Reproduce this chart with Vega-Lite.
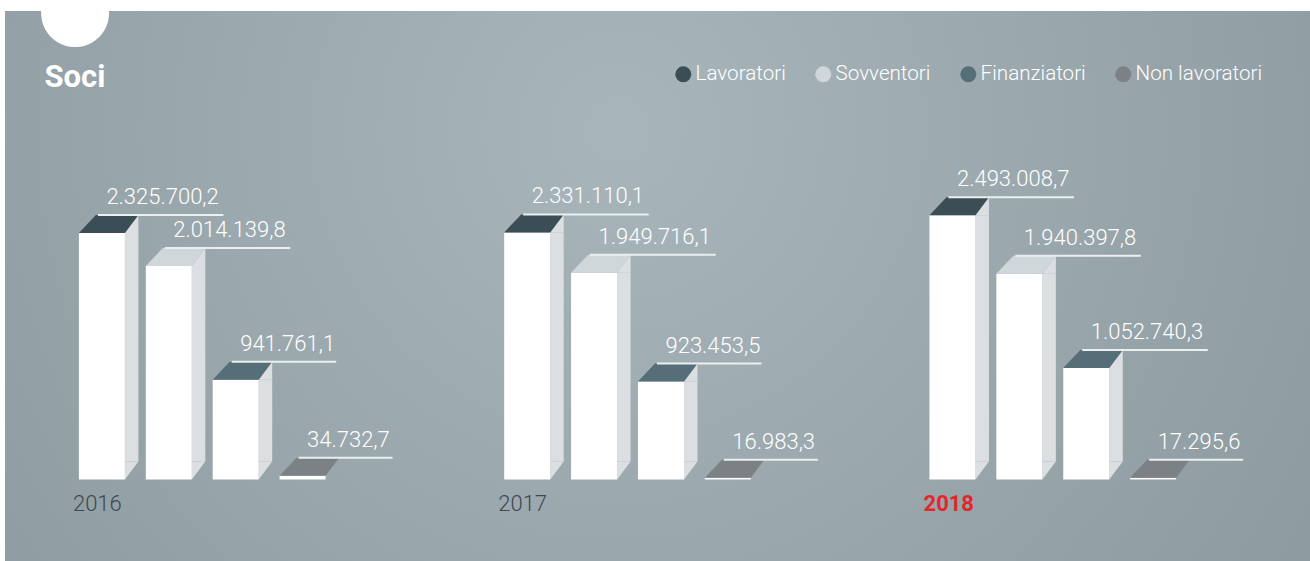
{
  "$schema": "https://vega.github.io/schema/vega-lite/v6.json",
  "autosize": {"type": "none"},
  "width": 1305,
  "height": 550,
  "padding": {"left": 5, "top": 11, "right": 0, "bottom": 0},
  "background": "#ffffff",
  "view": {
    "stroke": null,
    "fill": {
      "gradient": "radial",
      "x1": 0.47, "y1": 0.38, "r1": 0,
      "x2": 0.47, "y2": 0.38, "r2": 0.7,
      "stops": [
        {"offset": 0, "color": "#a8b6bc"},
        {"offset": 1, "color": "#8a979d"}
      ]
    }
  },
  "title": {
    "text": "●",
    "subtitle": "Soci",
    "anchor": "start",
    "align": "center",
    "frame": "group",
    "font": "DejaVu Sans",
    "fontSize": 89,
    "color": "#ffffff",
    "subtitleFont": "Roboto",
    "subtitleFontSize": 31,
    "subtitleFontWeight": "bold",
    "subtitleColor": "#ffffff",
    "subtitlePadding": 8,
    "dx": 70,
    "dy": 83,
    "offset": 0
  },
  "config": {
    "locale": {
      "number": {"decimal": ",", "thousands": ".", "grouping": [3], "currency": ["€", ""]}
    },
    "legend": {
      "orient": "none",
      "legendX": 668,
      "legendY": 53,
      "direction": "horizontal",
      "title": null,
      "symbolType": "circle",
      "symbolSize": 256,
      "symbolOpacity": 1,
      "symbolStrokeWidth": 0,
      "labelFont": "Roboto",
      "labelFontSize": 20.6,
      "labelFontWeight": 300,
      "labelColor": "#ffffff",
      "labelOffset": 2,
      "columnPadding": 27,
      "padding": 0
    }
  },
  "data": {
    "values": [
      {"year": "2016", "category": "Lavoratori", "value": 2325700.2},
      {"year": "2016", "category": "Sovventori", "value": 2014139.8},
      {"year": "2016", "category": "Finanziatori", "value": 941761.1},
      {"year": "2016", "category": "Non lavoratori", "value": 34732.7},
      {"year": "2017", "category": "Lavoratori", "value": 2331110.1},
      {"year": "2017", "category": "Sovventori", "value": 1949716.1},
      {"year": "2017", "category": "Finanziatori", "value": 923453.5},
      {"year": "2017", "category": "Non lavoratori", "value": 16983.3},
      {"year": "2018", "category": "Lavoratori", "value": 2493008.7},
      {"year": "2018", "category": "Sovventori", "value": 1940397.8},
      {"year": "2018", "category": "Finanziatori", "value": 1052740.3},
      {"year": "2018", "category": "Non lavoratori", "value": 17295.6}
    ]
  },
  "encoding": {
    "x": {
      "field": "year",
      "type": "nominal",
      "scale": {"type": "band", "range": [63.45, 1181.6], "paddingInner": 0.3708, "paddingOuter": 0},
      "axis": {
        "title": null,
        "orient": "bottom",
        "domain": false,
        "ticks": false,
        "tickSize": 0,
        "labelAngle": 0,
        "labelAlign": "left",
        "labelBaseline": "alphabetic",
        "labelPadding": -51,
        "labelOffset": -129.3,
        "labelFont": "Roboto",
        "labelFontSize": 22,
        "labelFontWeight": {"condition": {"test": "datum.label == '2018'", "value": "bold"}, "value": 300},
        "labelColor": {"condition": {"test": "datum.label == '2018'", "value": "#e3262b"}, "value": "#3d484e"}
      }
    },
    "xOffset": {
      "field": "category",
      "type": "nominal",
      "sort": ["Lavoratori", "Sovventori", "Finanziatori", "Non lavoratori"],
      "scale": {"type": "band", "domain": ["Lavoratori", "Sovventori", "Finanziatori", "Non lavoratori"], "paddingInner": 0, "paddingOuter": 0}
    },
    "y": {
      "field": "value",
      "type": "quantitative",
      "stack": null,
      "scale": {"domain": [0, 4420000], "range": [468.5, 0], "nice": false, "zero": true},
      "axis": null
    }
  },
  "layer": [
    {
      "transform": [{"filter": {"field": "value", "gt": 100000}}],
      "mark": {"type": "bar", "width": 13.5, "y2Offset": -18, "fill": "#dcdfe1"},
      "encoding": {
        "xOffset": {
          "field": "category",
          "type": "nominal",
          "sort": ["Lavoratori", "Sovventori", "Finanziatori", "Non lavoratori"],
          "scale": {"type": "band", "domain": ["Lavoratori", "Sovventori", "Finanziatori", "Non lavoratori"], "paddingInner": 0, "paddingOuter": 0, "range": [29.75, 297.35]}
        },
        "y2": {"datum": 0}
      }
    },
    {
      "transform": [{"filter": {"field": "value", "gt": 100000}}],
      "mark": {"type": "point", "shape": "M 23 -18 L 23 0 L 36.5 -18 Z", "size": 4, "filled": true, "opacity": 1, "strokeWidth": 0, "fill": "#dcdfe1"},
      "encoding": {"y": {"datum": 0}}
    },
    {
      "transform": [{"filter": {"field": "value", "gt": 100000}}],
      "mark": {"type": "point", "shape": "M 23 0 L 36.5 0 L 36.5 -18 Z", "size": 4, "filled": true, "opacity": 1, "strokeWidth": 0, "fill": "#dcdfe1"}
    },
    {
      "mark": {"type": "bar", "width": 46, "fill": "#ffffff"},
      "encoding": {"y2": {"datum": 0}}
    },
    {
      "mark": {"type": "point", "shape": "M -23 0 L 23 0 L 36.5 -18 L -6 -18 Z", "size": 4, "filled": true, "opacity": 1, "strokeWidth": 0},
      "encoding": {
        "color": {
          "field": "category",
          "type": "nominal",
          "sort": ["Lavoratori", "Sovventori", "Finanziatori", "Non lavoratori"],
          "scale": {"domain": ["Lavoratori", "Sovventori", "Finanziatori", "Non lavoratori"], "range": ["#3b4d55", "#d0d7da", "#566e77", "#7b8185"]},
          "legend": {"symbolType": "circle"}
        }
      }
    },
    {
      "mark": {
        "type": "point",
        "shape": {"expr": "'M -4 -18 L ' + (6 + 10.5 * length(format(datum.value, ',.1f'))) + ' -18'"},
        "size": 4,
        "filled": false,
        "opacity": 1,
        "stroke": "#eceff0",
        "strokeWidth": 2
      }
    },
    {
      "mark": {"type": "text", "align": "left", "baseline": "alphabetic", "dx": 4.5, "dy": -29, "font": "Roboto", "fontSize": 22, "fontWeight": 300, "fill": "#ffffff"},
      "encoding": {
        "text": {"field": "value", "type": "quantitative", "format": ",.1f"}
      }
    }
  ],
  "resolve": {"scale": {"xOffset": "independent"}}
}
